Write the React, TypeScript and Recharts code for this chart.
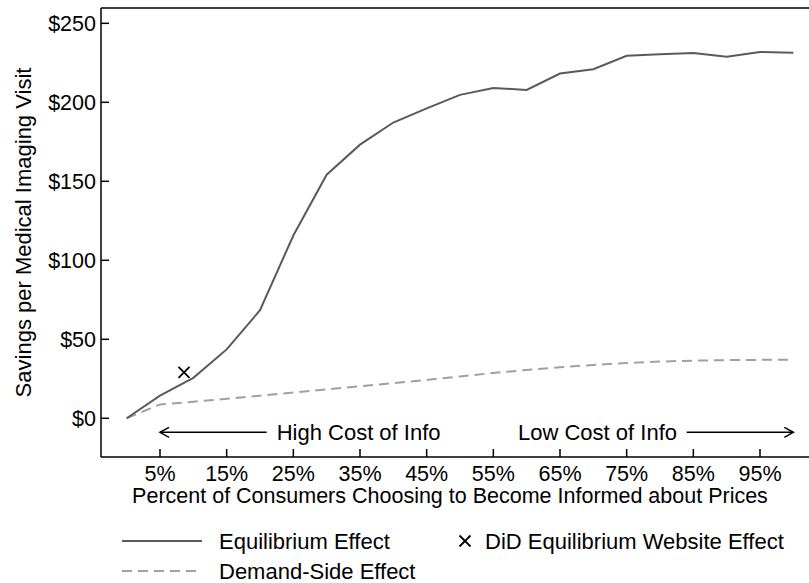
import { ComposedChart, Line, Scatter, XAxis, YAxis, ReferenceLine, ReferenceDot } from 'recharts'

const FONT = "'Liberation Sans', Arial, Helvetica, sans-serif"

// share of consumers who become informed (%) and savings per visit ($)
const PCT_INFORMED = [0, 5, 10, 15, 20, 25, 30, 35, 40, 45, 50, 55, 60, 65, 70, 75, 80, 85, 90, 95, 100]
const EQUILIBRIUM = [0, 14.3, 25.6, 43.6, 68.4, 115.7, 154.2, 173.2, 187.2, 196.2, 204.7, 209.1, 207.8, 218.2, 220.9, 229.5, 230.4, 231.2, 228.9, 231.9, 231.4]
const DEMAND_SIDE = [0, 8.8, 10.5, 12.3, 14.3, 16.3, 18.3, 20.3, 22.3, 24.3, 26.5, 28.7, 30.6, 32.3, 33.8, 35.0, 35.9, 36.5, 36.8, 37.0, 37.0]

// difference-in-differences estimate from the price website
const DID_PCT = [8.6]
const DID_SAVINGS = [29]

const X_TICKS = [5, 15, 25, 35, 45, 55, 65, 75, 85, 95]
const Y_TICKS = [0, 50, 100, 150, 200, 250]

const X_DOMAIN: [number, number] = [-3.85, 102.35]
const Y_DOMAIN: [number, number] = [-24.5, 259.7]
const ARROW_Y = -8.9

const EQ_COLOR = '#5a5a5a'
const DS_COLOR = '#a0a0a0'
const TEXT_SIZE = 22

const eqRows = PCT_INFORMED.map((x, i) => ({ x, y: EQUILIBRIUM[i] }))
const dsRows = PCT_INFORMED.map((x, i) => ({ x, y: DEMAND_SIDE[i] }))
const didRows = DID_PCT.map((x, i) => ({ x, y: DID_SAVINGS[i] }))

function XMark({ cx, cy }: { cx?: number; cy?: number }) {
  if (cx == null || cy == null) return null
  const s = 5.5
  return (
    <g stroke="#000" strokeWidth={1.8}>
      <line x1={cx - s} y1={cy - s} x2={cx + s} y2={cy + s} />
      <line x1={cx - s} y1={cy + s} x2={cx + s} y2={cy - s} />
    </g>
  )
}

// plain line with an open arrowhead at (x2, y2)
function Arrow(props: any) {
  const { x1, y1, x2, y2 } = props
  const dir = x2 > x1 ? 1 : -1
  return (
    <g stroke="#000" strokeWidth={1.5} fill="none">
      <line x1={x1} y1={y1} x2={x2} y2={y2} />
      <polyline points={`${x2 - dir * 9},${y2 - 5} ${x2},${y2} ${x2 - dir * 9},${y2 + 5}`} />
    </g>
  )
}

const note = (text: string) => (props: any) => (
  <text x={props.cx} y={props.cy} dy="0.355em" fontSize={TEXT_SIZE} fontFamily={FONT} fill="#000">
    {text}
  </text>
)

const tickStyle = { fill: '#000', fontSize: 21.5, fontFamily: FONT }

export default function App() {
  return (
    <div style={{ position: 'absolute', left: 0, top: 0, width: 809, height: 583, fontFamily: FONT, background: '#fff' }}>
      <ComposedChart width={809} height={583} margin={{ top: 8, right: 0, bottom: 66, left: 0 }}>
        <XAxis
          dataKey="x"
          type="number"
          domain={X_DOMAIN}
          allowDataOverflow
          ticks={X_TICKS}
          interval={0}
          tickFormatter={(v) => `${v}%`}
          height={60}
          tick={tickStyle}
          tickSize={-8}
          tickMargin={17}
          axisLine={{ stroke: '#000', strokeWidth: 1.5 }}
          tickLine={{ stroke: '#000', strokeWidth: 1.5 }}
          label={{
            value: 'Percent of Consumers Choosing to Become Informed about Prices',
            position: 'insideBottom',
            offset: 14,
            dx: -5,
            fill: '#000',
            fontSize: 21.5,
            fontFamily: FONT,
          }}
        />
        <YAxis
          dataKey="y"
          type="number"
          domain={Y_DOMAIN}
          allowDataOverflow
          ticks={Y_TICKS}
          interval={0}
          tickFormatter={(v) => `$${v}`}
          width={101}
          tick={tickStyle}
          tickSize={-8}
          tickMargin={13}
          axisLine={{ stroke: '#000', strokeWidth: 1.5 }}
          tickLine={{ stroke: '#000', strokeWidth: 1.5 }}
          label={{
            value: 'Savings per Medical Imaging Visit',
            angle: -90,
            position: 'insideLeft',
            offset: 23,
            fill: '#000',
            fontSize: TEXT_SIZE,
            fontFamily: FONT,
            style: { textAnchor: 'middle' },
          }}
        />
        <ReferenceLine y={Y_DOMAIN[1]} stroke="#000" strokeWidth={1.5} />

        <ReferenceLine segment={[{ x: 21, y: ARROW_Y }, { x: 5, y: ARROW_Y }]} shape={Arrow} ifOverflow="visible" />
        <ReferenceDot x={22.5} y={ARROW_Y} r={1} shape={note('High Cost of Info')} ifOverflow="visible" />
        <ReferenceDot x={58.7} y={ARROW_Y} r={1} shape={note('Low Cost of Info')} ifOverflow="visible" />
        <ReferenceLine segment={[{ x: 84, y: ARROW_Y }, { x: 100, y: ARROW_Y }]} shape={Arrow} ifOverflow="visible" />

        <Line data={dsRows} dataKey="y" type="linear" stroke={DS_COLOR} strokeWidth={2} strokeDasharray="10 6" dot={false} activeDot={false} isAnimationActive={false} />
        <Line data={eqRows} dataKey="y" type="linear" stroke={EQ_COLOR} strokeWidth={2} dot={false} activeDot={false} isAnimationActive={false} />
        <Scatter data={didRows} dataKey="y" shape={(p: any) => <XMark cx={p.cx} cy={p.cy} />} isAnimationActive={false} />
      </ComposedChart>

      <svg width={809} height={583} style={{ position: 'absolute', left: 0, top: 0, pointerEvents: 'none' }}>
        <g fontSize={TEXT_SIZE} fontFamily={FONT} fill="#000">
          <line x1={122} y1={541} x2={202} y2={541} stroke={EQ_COLOR} strokeWidth={2} />
          <text x={219} y={541} dy="0.355em">Equilibrium Effect</text>
          <XMark cx={465} cy={541} />
          <text x={485} y={541} dy="0.355em">DiD Equilibrium Website Effect</text>
          <line x1={122} y1={571} x2={202} y2={571} stroke={DS_COLOR} strokeWidth={2} strokeDasharray="10 6" />
          <text x={219} y={571} dy="0.355em">Demand-Side Effect</text>
        </g>
      </svg>
    </div>
  )
}
